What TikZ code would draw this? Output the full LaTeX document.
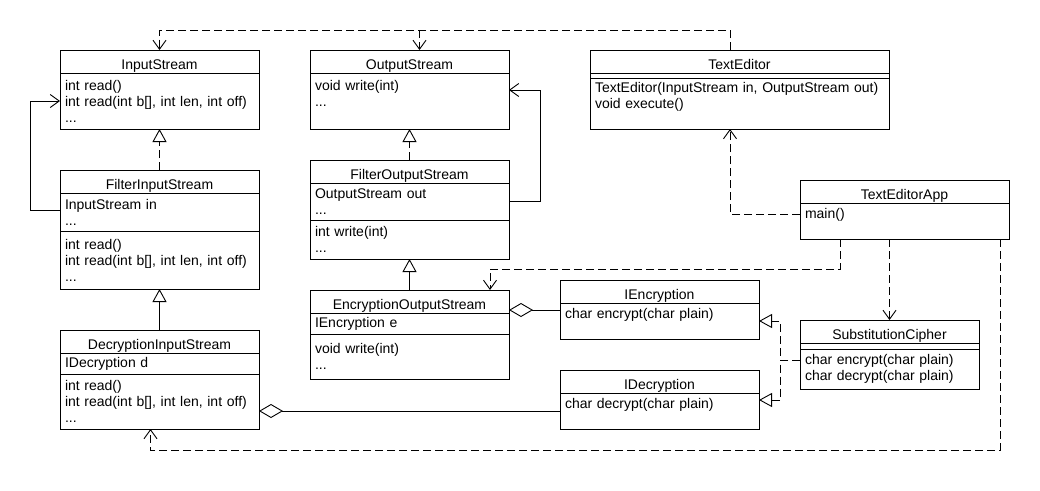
\documentclass[tikz,border=0pt]{standalone}
\usepackage{fontspec}
\setmainfont{Liberation Sans}
\usetikzlibrary{arrows.meta}

\tikzset{
	hdr/.style={draw, anchor=north west, inner sep=0pt, outer sep=0pt, minimum height=23, text height=16pt, text depth=0pt},
	comp/.style={draw, anchor=north west, align=left, inner xsep=5pt, inner ysep=0pt, outer sep=0pt},
	dep/.style={dash pattern=on 8pt off 4pt, -{Straight Barb[length=9pt,width=13pt]}},
	assoc/.style={-{Straight Barb[length=9pt,width=13pt]}},
	real/.style={dash pattern=on 8pt off 4pt, -{Triangle[open,length=13pt,width=14pt]}},
	gen/.style={-{Triangle[open,length=13pt,width=14pt]}},
	agg/.style={{Diamond[open,length=24pt,width=14pt]}-}
}

\begin{document}
\begin{tikzpicture}[x=1pt, y=-1pt, line width=0.9pt, font=\fontsize{14}{16}\selectfont]
		\useasboundingbox (0,0) rectangle (1040,490);

		\node[hdr, minimum width=199] (IS) at (60,50) {InputStream};
		\node[comp, text width=189, minimum height=56] (ISb) at (IS.south west) {int read()\\int read(int b[], int len, int off)\\...};

		\node[hdr, minimum width=199] (OS) at (310,50) {OutputStream};
		\node[comp, text width=189, minimum height=56] (OSb) at (OS.south west) {void write(int)\\...\\\mbox{}};

		\node[hdr, minimum width=299] (TE) at (590,50) {TextEditor};
		\node[comp, minimum width=299, minimum height=5] (TEa) at (TE.south west) {};
		\node[comp, text width=289, minimum height=51] (TEb) at (TEa.south west) {TextEditor(InputStream in, OutputStream out)\\void execute()\\\mbox{}};

		\node[hdr, minimum width=199] (FIS) at (60,170) {FilterInputStream};
		\node[comp, text width=189, minimum height=38] (FISa) at (FIS.south west) {InputStream in\\...};
		\node[comp, text width=189, minimum height=58] (FISm) at (FISa.south west) {int read()\\int read(int b[], int len, int off)\\...};

		\node[hdr, minimum width=199] (FOS) at (310,160) {FilterOutputStream};
		\node[comp, text width=189, minimum height=37] (FOSa) at (FOS.south west) {OutputStream out\\...};
		\node[comp, text width=189, minimum height=39] (FOSm) at (FOSa.south west) {int write(int)\\...};

		\node[hdr, minimum width=209] (TEA) at (800,180) {TextEditorApp};
		\node[comp, text width=199, minimum height=36] (TEAb) at (TEA.south west) {main()\\\mbox{}};

		\node[hdr, minimum width=199] (EOS) at (310,290) {EncryptionOutputStream};
		\node[comp, text width=189, minimum height=21] (EOSa) at (EOS.south west) {IEncryption e};
		\node[comp, text width=189, minimum height=45] (EOSm) at (EOSa.south west) {void write(int)\\...};

		\node[hdr, minimum width=199] (DIS) at (60,330) {DecryptionInputStream};
		\node[comp, text width=189, minimum height=21] (DISa) at (DIS.south west) {IDecryption d};
		\node[comp, text width=189, minimum height=55] (DISm) at (DISa.south west) {int read()\\int read(int b[], int len, int off)\\...};

		\node[hdr, minimum width=199] (IE) at (560,280) {IEncryption};
		\node[comp, text width=189, minimum height=36] (IEb) at (IE.south west) {char encrypt(char plain)\\\mbox{}};

		\node[hdr, minimum width=199] (ID) at (560,370) {IDecryption};
		\node[comp, text width=189, minimum height=36] (IDb) at (ID.south west) {char decrypt(char plain)\\\mbox{}};

		\node[hdr, minimum width=179] (SC) at (800,320) {SubstitutionCipher};
		\node[comp, minimum width=179, minimum height=6] (SCa) at (SC.south west) {};
		\node[comp, text width=169, minimum height=40] (SCb) at (SCa.south west) {char encrypt(char plain)\\char decrypt(char plain)};

		% inheritance
		\draw[real] (FIS.north) -- (ISb.south);
		\draw[real] (FOS.north) -- (OSb.south);
		\draw[gen] (DIS.north) -- (FISm.south);
		\draw[gen] (EOS.north) -- (FOSm.south);

		\draw[assoc] ([yshift=2pt]FISa.west) -- ++(-30,0) |- (ISb.west);
		\draw[assoc] (FOSa.east) -- ++(31,0) |- ([yshift=11pt]OSb.east);

		% uses
		\draw[dep] ([xshift=-9.5pt]TE.north) |- ([yshift=20pt]IS.north) -- (IS.north);
		\draw[dep] ([xshift=10pt,yshift=20pt]OS.north) -- ([xshift=10pt]OS.north);
		\draw[dep] ([yshift=7pt]TEAb.west) -| ([xshift=-9.5pt]TEb.south);
		\draw[dep] ([xshift=-64.5pt]TEAb.south) -- ++(0,30) -| ([xshift=80.5pt]EOS.north);
		\draw[dep] (SC.north |- TEAb.south) -- (SC.north);
		\draw[dep] ([xshift=95.5pt]TEAb.south) |- ([xshift=-9pt,yshift=-21pt]DISm.south) -- ([xshift=-9pt]DISm.south);

		\draw[agg] ([yshift=-8.5pt]EOS.east) -- ([yshift=11pt]IEb.west);
		\draw[agg] ([yshift=-9.5pt]DISm.east) -- (IDb.west);

		\draw[real] ([yshift=9pt]SCb.west) -- ++(-19.5,0) |- (IEb.east);
		\draw[real] ([yshift=9pt]SCb.west) -- ++(-19.5,0) |- ([yshift=11pt]IDb.east);
	\end{tikzpicture}
\end{document}
